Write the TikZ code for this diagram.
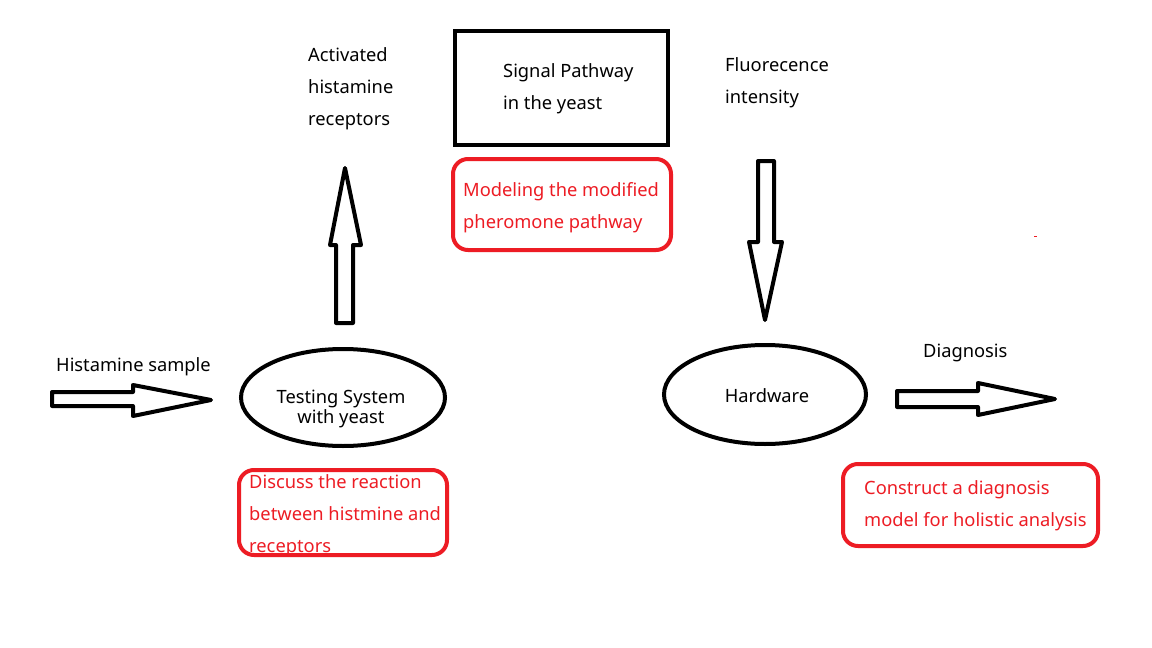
\documentclass[tikz,border=0pt]{standalone}
\usepackage{fontspec}
\setmainfont{Noto Sans}
\usetikzlibrary{shapes.geometric}
\definecolor{pred}{RGB}{237,28,36}
\begin{document}
\begin{tikzpicture}[x=1pt,y=-1pt,
 lbl/.style={inner sep=0pt, align=left, font=\fontsize{18.3}{32}\selectfont},
 redtxt/.style={lbl, text=pred},
 redbox/.style={draw=pred, line width=4pt, rounded corners=15pt, inner sep=0pt},
 blackbox/.style={draw=black, line width=4pt, inner sep=0pt},
 oval/.style={ellipse, draw, line width=4pt, inner sep=0pt},
 barrow/.style={draw, line width=4pt, fill=white, line join=round}]
\useasboundingbox[fill=white] (0,0) rectangle (1152,648);

% boxes and ovals
\node[oval, minimum width=204pt, minimum height=97pt] (test) at (343,397.5) {};
\node[oval, minimum width=202pt, minimum height=99pt] (hw) at (765,394.5) {};
\node[blackbox, minimum width=213pt, minimum height=114pt] (sig) at (561.5,88) {};
\node[redbox, minimum width=208pt, minimum height=85pt] (r1) at (343,512.5) {};
\node[redbox, minimum width=218pt, minimum height=91pt] (r2) at (562,204.5) {};
\node[redbox, minimum width=255pt, minimum height=82pt] (r3) at (970.5,505) {};

% texts (base anchor = baseline of the last line)
\node[lbl, anchor=base west] (thist) at (56,371) {Histamine sample};
\node[lbl, anchor=base west] (tact) at (308,125) {Activated\\histamine\\receptors};
\node[lbl, anchor=base west] (tsig) at (503,109) {Signal Pathway\\in the yeast};
\node[lbl, anchor=base west] (tflu) at (725,103) {Fluorecence\\intensity};
\node[lbl, anchor=base, align=center, font=\fontsize{18.3}{20}\selectfont] (ttest) at (341,423) {Testing System\\with yeast};
\node[lbl, anchor=base] (thw) at (767,402) {Hardware};
\node[lbl, anchor=base west] (tdia) at (923,357) {Diagnosis};
\node[redtxt, anchor=base west] (tr1) at (249,552) {Discuss the reaction\\between histmine and\\receptors};
\node[redtxt, anchor=base west] (tr2) at (463,228) {Modeling the modified\\pheromone pathway};
\node[redtxt, anchor=base west] (tr3) at (864,526) {Construct a diagnosis\\model for holistic analysis};

% block arrows
\draw[barrow] (52,392) -- (133,392) -- (133,385) -- (211,400) -- (133,416) -- (133,406) -- (52,406) -- cycle;
\draw[barrow] (336,323) -- (336,245) -- (330,245) -- (345,168) -- (361,245) -- (353,245) -- (353,323) -- cycle;
\draw[barrow] (758,161) -- (774,161) -- (774,242) -- (782,242) -- (765,320) -- (749,242) -- (758,242) -- cycle;
\draw[barrow] (897,391) -- (978,391) -- (978,383) -- (1055,399) -- (978,415) -- (978,407) -- (897,407) -- cycle;

% stray mark
\coordinate (m1) at (1034,236);
\coordinate (m2) at (1037,236);
\draw[pred, line width=1pt] (m1) -- (m2);
\end{tikzpicture}
\end{document}
